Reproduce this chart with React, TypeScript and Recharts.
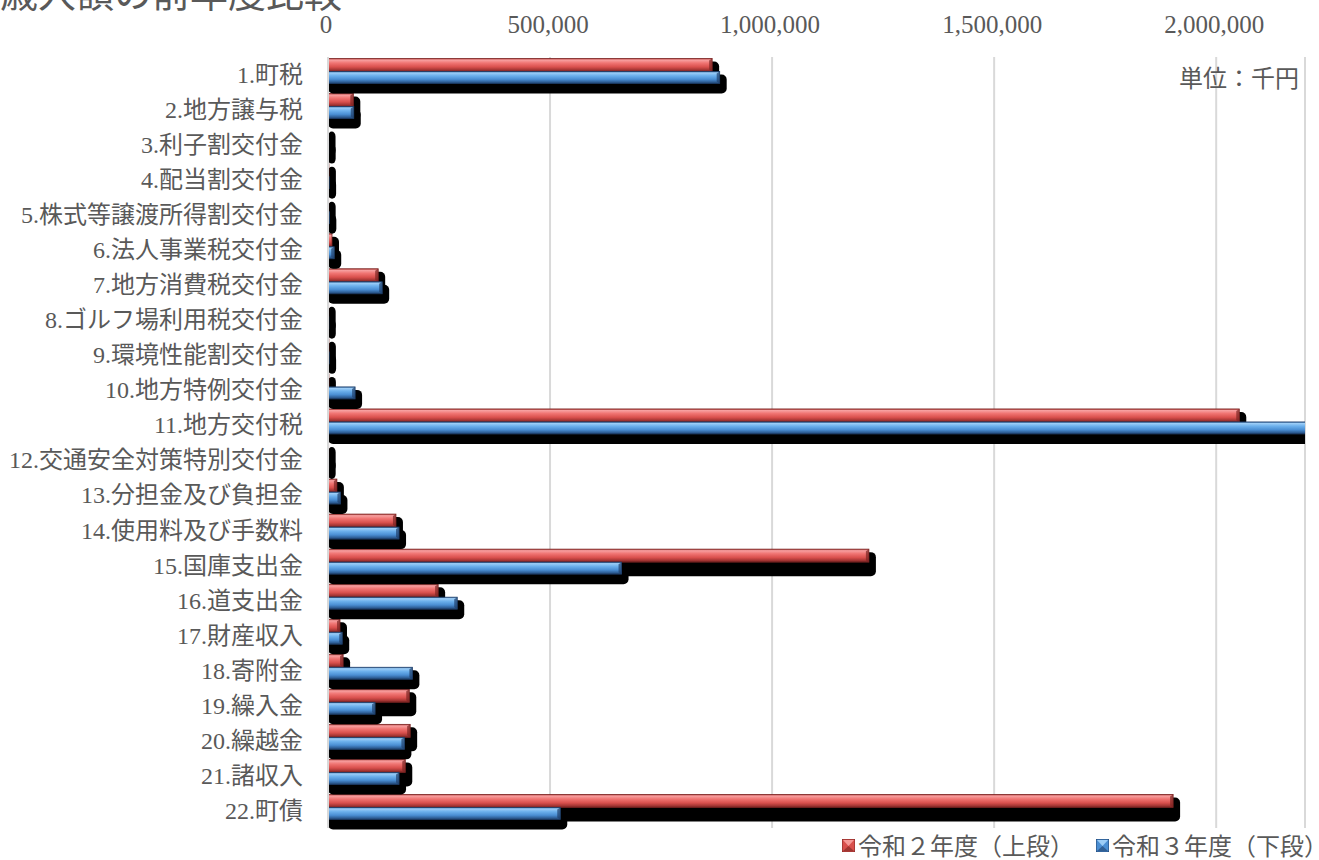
import React from "react";
import { BarChart, Bar, XAxis, YAxis, CartesianGrid } from "recharts";

const categories = [
  "1.町税",
  "2.地方譲与税",
  "3.利子割交付金",
  "4.配当割交付金",
  "5.株式等譲渡所得割交付金",
  "6.法人事業税交付金",
  "7.地方消費税交付金",
  "8.ゴルフ場利用税交付金",
  "9.環境性能割交付金",
  "10.地方特例交付金",
  "11.地方交付税",
  "12.交通安全対策特別交付金",
  "13.分担金及び負担金",
  "14.使用料及び手数料",
  "15.国庫支出金",
  "16.道支出金",
  "17.財産収入",
  "18.寄附金",
  "19.繰入金",
  "20.繰越金",
  "21.諸収入",
  "22.町債",
];

// 単位：千円
const r2Values = [
  865000, 57000, 1200, 2000, 1500, 9000, 113000, 1500, 2000, 2000, 2052000,
  1500, 20000, 153000, 1218000, 248000, 27000, 34000, 183000, 185000, 174000,
  1903000,
];
const r3Values = [
  882000, 58000, 1500, 2500, 3000, 14000, 122000, 1800, 2500, 61000, 2260000,
  1500, 28000, 160000, 661000, 291000, 32000, 190000, 106000, 172000, 160000,
  523000,
];

const xTicks = [0, 500000, 1000000, 1500000, 2000000];
const seriesNames = ["令和２年度（上段）", "令和３年度（下段）"];

const data = categories.map((name, i) => ({
  name,
  r2: r2Values[i],
  r3: r3Values[i],
}));

const FONT = "'Liberation Serif', 'Noto Sans CJK JP', serif";
const TEXT = "#595959";

const BevelBar = (props: any) => {
  const { x, y, width, height, series } = props;
  if (x == null || y == null) return null;
  const w = Math.max(width, 0);
  const top = y - 3.5;
  const h = series === "r2" ? height : height - 1;
  const shadowH = series === "r2" ? h + 11 : h + 7;
  const fillId = series === "r2" ? "gradRed" : "gradBlue";
  const edge = series === "r2" ? "#7a2422" : "#1f3f6a";
  return (
    <g>
      <rect x={x} y={top + 3} width={w + 7} height={shadowH} rx={5} fill="#000" />
      <rect
        x={x}
        y={top}
        width={w}
        height={h}
        fill={`url(#${fillId})`}
        stroke={edge}
        strokeWidth={0.8}
      />
      {w > 6 && (
        <polygon
          points={`${x + w - 3},${top + 2} ${x + w},${top} ${x + w},${top + h} ${x + w - 3},${top + h - 2}`}
          fill={edge}
          opacity={0.7}
        />
      )}
    </g>
  );
};

const YTick = ({ x, y, payload }: any) => (
  <text
    x={x}
    y={y}
    dy="0.35em"
    textAnchor="end"
    fontSize={24}
    fontFamily={FONT}
    fill={TEXT}
  >
    {payload.value}
  </text>
);

const XTick = ({ x, y, payload }: any) => (
  <text x={x - 2} y={y + 1} textAnchor="middle" fontSize={25} fontFamily={FONT} fill={TEXT}>
    {payload.value.toLocaleString("en-US")}
  </text>
);

const LegendSwatch = ({ light, mid, dark }: { light: string; mid: string; dark: string }) => (
  <svg width={13} height={13} style={{ marginRight: 3 }}>
    <rect x={0} y={0} width={13} height={13} fill={mid} stroke={dark} strokeWidth={1} />
    <polygon points="1,1 12,1 6.5,7" fill={light} />
    <polygon points="1,12 12,12 6.5,7" fill={dark} opacity={0.6} />
  </svg>
);

export default function App() {
  return (
    <div
      style={{
        position: "absolute",
        left: 0,
        top: 0,
        width: 1319,
        height: 860,
        overflow: "hidden",
        background: "#fff",
        fontFamily: FONT,
      }}
    >
      <div
        style={{
          position: "absolute",
          left: 0,
          top: -28,
          fontSize: 38,
          lineHeight: "38px",
          color: TEXT,
          fontFamily: "'Noto Sans CJK JP', sans-serif",
          whiteSpace: "nowrap",
        }}
      >
        歳入額の前年度比較
      </div>
      <BarChart
        width={1319}
        height={860}
        data={data}
        layout="vertical"
        margin={{ top: 17, right: 14, bottom: 32, left: 0 }}
        barSize={13}
        barGap={0}
      >
        <defs>
          <linearGradient id="gradRed" x1="0" y1="0" x2="0" y2="1">
            <stop offset="0%" stopColor="#b33d3b" />
            <stop offset="12%" stopColor="#f7a0a0" />
            <stop offset="35%" stopColor="#f07472" />
            <stop offset="65%" stopColor="#d9504d" />
            <stop offset="88%" stopColor="#a23432" />
            <stop offset="100%" stopColor="#6e1f1e" />
          </linearGradient>
          <linearGradient id="gradBlue" x1="0" y1="0" x2="0" y2="1">
            <stop offset="0%" stopColor="#3a6ea5" />
            <stop offset="12%" stopColor="#9ccdf7" />
            <stop offset="35%" stopColor="#6cb0ec" />
            <stop offset="65%" stopColor="#4a8ed3" />
            <stop offset="88%" stopColor="#2e5e96" />
            <stop offset="100%" stopColor="#1d3d66" />
          </linearGradient>
        </defs>
        <CartesianGrid horizontal={false} stroke="#d9d9d9" strokeWidth={2} />
        <XAxis
          type="number"
          orientation="top"
          domain={[0, 2200000]}
          ticks={xTicks}
          allowDataOverflow
          height={40}
          axisLine={false}
          tickLine={false}
          tickSize={0}
          tickMargin={25}
          tick={<XTick />}
        />
        <YAxis
          type="category"
          dataKey="name"
          width={328}
          interval={0}
          axisLine={{ stroke: "#d9d9d9", strokeWidth: 2 }}
          tickLine={false}
          tickSize={0}
          tickMargin={25}
          tick={<YTick />}
        />
        <Bar
          dataKey="r2"
          name={seriesNames[0]}
          isAnimationActive={false}
          shape={(p: any) => <BevelBar {...p} series="r2" />}
        />
        <Bar
          dataKey="r3"
          name={seriesNames[1]}
          isAnimationActive={false}
          shape={(p: any) => <BevelBar {...p} series="r3" />}
        />
      </BarChart>
      <div
        style={{
          position: "absolute",
          right: 4,
          top: 62,
          fontSize: 24,
          color: TEXT,
          fontFamily: "'Noto Sans CJK JP', sans-serif",
          lineHeight: "30px",
          width: 136,
          textAlign: "left",
        }}
      >
        単位：千円
      </div>
      <div
        style={{
          position: "absolute",
          left: 842,
          top: 831,
          display: "flex",
          alignItems: "center",
          fontSize: 24,
          lineHeight: "28px",
          color: TEXT,
          fontFamily: "'Noto Sans CJK JP', sans-serif",
          whiteSpace: "nowrap",
        }}
      >
        <LegendSwatch light="#f59a98" mid="#d9504d" dark="#7a2422" />
        <span style={{ marginRight: 22 }}>{seriesNames[0]}</span>
        <LegendSwatch light="#9ccdf7" mid="#4a8ed3" dark="#1f3f6a" />
        <span>{seriesNames[1]}</span>
      </div>
    </div>
  );
}
